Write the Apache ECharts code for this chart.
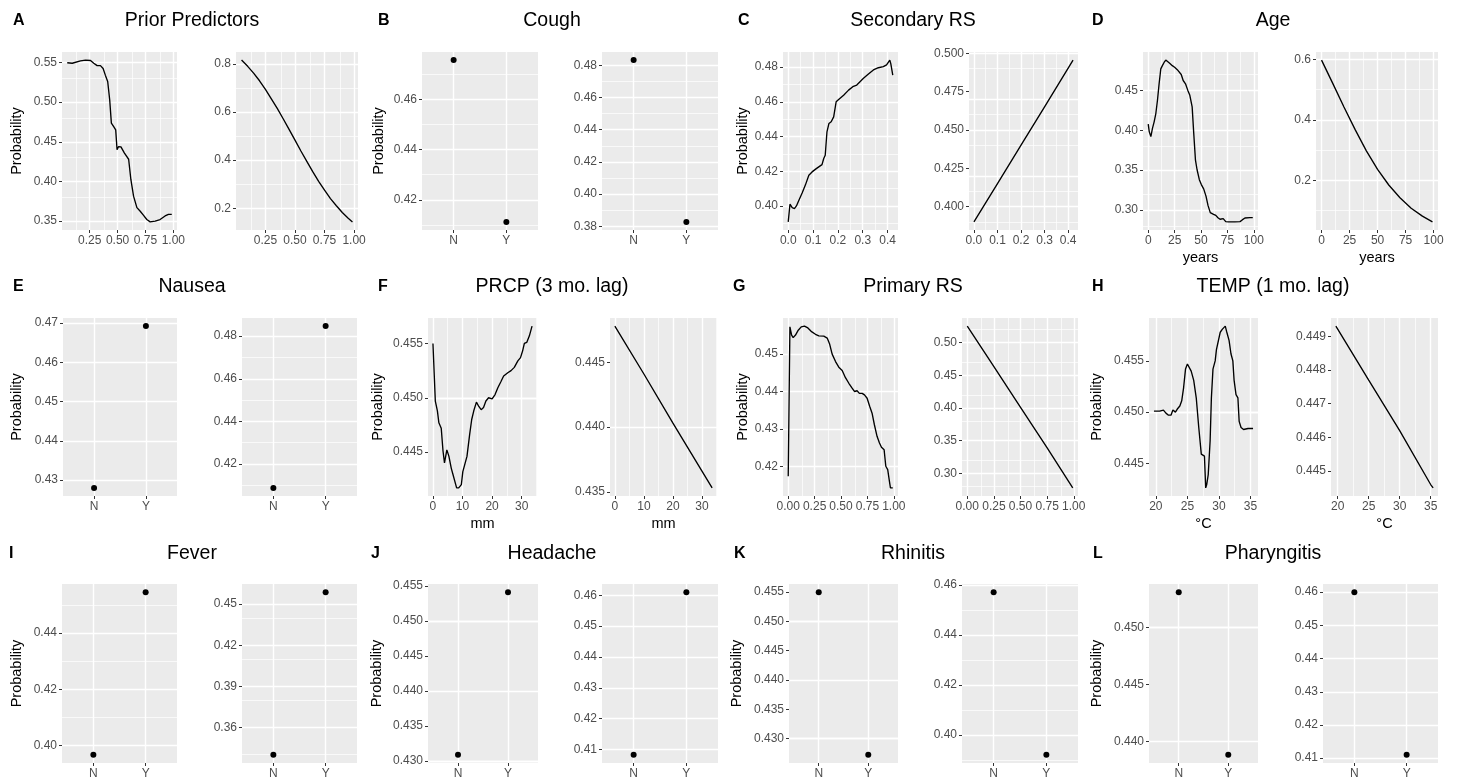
<!DOCTYPE html>
<html>
<head>
<meta charset="utf-8">
<script src="https://cdn.jsdelivr.net/npm/echarts@6/dist/echarts.min.js"></script>
<style>html,body{margin:0;padding:0;background:#fff}#main{width:1461px;height:782px}</style>
</head>
<body>
<div id="main"></div>
<script>
// ================= DATA =================
const catLabels = ['N', 'Y'];

// A Prior Predictors
const priorX = [0.048,0.093,0.167,0.212,0.257,0.286,0.316,0.346,0.37,0.39,0.411,0.429,0.444,0.465,0.483,0.495,0.509,0.53,0.56,0.599,0.619,0.643,0.673,0.703,0.733,0.762,0.792,0.837,0.881,0.926,0.956,0.986];
const priorPdp = [0.5496,0.549,0.552,0.553,0.5525,0.549,0.546,0.546,0.5425,0.534,0.526,0.503,0.4735,0.469,0.465,0.44,0.444,0.4435,0.436,0.428,0.4025,0.3815,0.367,0.3625,0.3573,0.352,0.349,0.350,0.352,0.3565,0.3585,0.3585];
const priorLinX = [0.048,0.10,0.15,0.20,0.25,0.30,0.35,0.40,0.45,0.50,0.55,0.60,0.65,0.70,0.75,0.80,0.85,0.90,0.95,0.986];
const priorLin = [0.816,0.79,0.762,0.73,0.694,0.655,0.615,0.572,0.528,0.483,0.438,0.395,0.352,0.312,0.275,0.24,0.21,0.182,0.158,0.143];

// B Cough
const coughLeft = [0.4757, 0.4112];
const coughRight = [0.4833, 0.3827];

// C Secondary RS
const secX = [0,0.007,0.016,0.025,0.033,0.043,0.056,0.069,0.083,0.096,0.113,0.123,0.129,0.136,0.143,0.149,0.156,0.164,0.173,0.183,0.193,0.203,0.223,0.243,0.26,0.276,0.289,0.303,0.323,0.343,0.363,0.383,0.396,0.409,0.413,0.421];
const secPdp = [0.3908,0.401,0.399,0.3985,0.40,0.4033,0.4075,0.412,0.4177,0.4196,0.4215,0.4225,0.4215,0.4238,0.4273,0.4292,0.4427,0.4475,0.4485,0.4513,0.46,0.4613,0.4638,0.4667,0.4687,0.4696,0.4715,0.4735,0.476,0.4783,0.4796,0.4802,0.4812,0.484,0.482,0.4754];
const secLinX = [0,0.1,0.2,0.3,0.421];
const secLin = [0.390,0.415,0.440,0.465,0.4955];

// D Age
const ageX = [0,1,2.5,4,5.6,7.2,8.75,10.3,11.9,13.4,15,16.6,18.1,20.3,22.8,25,27.5,29,31.25,33.1,35.3,37.5,39.4,41.6,43.1,44.7,46.25,48.4,50.3,52.5,54.7,56.6,58.75,61.9,64,66,68,71,73.4,75.9,82,86.9,89,91.6,96.25,99];
const agePdp = [0.4077,0.398,0.392,0.4023,0.4106,0.421,0.4376,0.4583,0.477,0.481,0.485,0.488,0.488,0.484,0.481,0.479,0.476,0.4749,0.4699,0.4624,0.4583,0.45,0.4438,0.4293,0.3961,0.363,0.3505,0.3381,0.3319,0.3265,0.3174,0.3058,0.2967,0.2946,0.2933,0.2904,0.2884,0.2892,0.2855,0.2851,0.2851,0.2855,0.2876,0.29,0.2904,0.2904];
const ageLinX = [0,10,20,30,40,50,60,70,80,90,99];
const ageLin = [0.598,0.521,0.443,0.368,0.298,0.237,0.185,0.143,0.108,0.082,0.063];

// E Nausea
const nauseaLeft = [0.428, 0.4692];
const nauseaRight = [0.4088, 0.4847];

// F PRCP (3 mo. lag)
const prcpX = [0,0.8,1.5,2,2.8,3.4,3.9,4.7,5.4,6.2,6.7,7.3,8,8.7,9.6,10.1,10.7,11.5,12.4,13.1,13.8,14.7,15.5,16.3,17.1,17.9,18.8,20,21,21.9,23,23.9,25.3,26.4,27.5,28.7,29.6,30.3,30.9,31.7,32.6,33.5];
const prcpPdp = [0.455,0.4497,0.4488,0.4477,0.4472,0.4451,0.444,0.4452,0.4446,0.4435,0.443,0.4429,0.4417,0.4417,0.442,0.4432,0.4438,0.4446,0.4466,0.448,0.4488,0.4496,0.4492,0.4489,0.4491,0.4497,0.45,0.4499,0.4503,0.4509,0.4515,0.452,0.4523,0.4525,0.4528,0.4534,0.4537,0.4543,0.455,0.4551,0.4557,0.4566];
const prcpLinX = [0,10,20,30,33.5];
const prcpLin = [0.4478,0.4441,0.4403,0.4366,0.4353];

// G Primary RS
const primX = [0,0.016,0.032,0.047,0.069,0.095,0.123,0.154,0.186,0.217,0.258,0.29,0.337,0.369,0.391,0.416,0.448,0.479,0.511,0.542,0.574,0.605,0.627,0.652,0.674,0.7,0.722,0.747,0.772,0.794,0.816,0.841,0.864,0.883,0.908,0.924,0.942,0.958,0.968,0.99];
const primPdp = [0.4173,0.4573,0.4551,0.4544,0.4551,0.4564,0.4573,0.4575,0.457,0.4561,0.4553,0.4549,0.4548,0.4543,0.4528,0.45,0.448,0.4465,0.4456,0.4437,0.4422,0.4409,0.44,0.4402,0.4395,0.4395,0.4391,0.4382,0.436,0.4342,0.4311,0.428,0.4262,0.4251,0.4244,0.42,0.4191,0.416,0.4142,0.4142];
const primLinX = [0,0.25,0.5,0.75,0.99];
const primLin = [0.525,0.463,0.401,0.339,0.278];

// H TEMP (1 mo. lag)
const tempX = [19.7,20.6,21.2,21.6,22,22.4,22.7,23.1,23.4,23.8,24.1,24.4,24.7,25,25.3,25.6,26,26.4,26.8,27.2,27.5,27.7,27.9,28.05,28.3,28.6,28.8,29.05,29.4,29.6,29.9,30.2,30.55,31,31.2,31.6,31.9,32.2,32.4,32.7,33,33.2,33.5,33.9,34.6,35.4];
const tempPdp = [0.4501,0.4501,0.4502,0.4499,0.4497,0.4497,0.4502,0.45,0.4503,0.4506,0.4511,0.4524,0.4542,0.4547,0.4547,0.454,0.4531,0.4514,0.4485,0.4459,0.4459,0.4457,0.4426,0.4429,0.4439,0.4472,0.4514,0.4542,0.455,0.4561,0.456,0.4578,0.4581,0.4584,0.4579,0.457,0.4557,0.455,0.4531,0.4517,0.4514,0.4491,0.4485,0.4483,0.4484,0.4484];
const tempLinX = [19.7,25,30,35,35.4];
const tempLin = [0.4493,0.4477,0.4462,0.4446,0.4445];

// I-L categorical
const feverLeft = [0.3967, 0.4546];
const feverRight = [0.3398, 0.4588];
const headLeft = [0.4309, 0.4541];
const headRight = [0.4083, 0.461];
const rhinLeft = [0.455, 0.4272];
const rhinRight = [0.4571, 0.392];
const pharLeft = [0.4531, 0.4388];
const pharRight = [0.46, 0.411];

// tick labels
const priorXT = ['0.25','0.50','0.75','1.00'];
const priorYL = ['0.35','0.40','0.45','0.50','0.55'];
const priorYR = ['0.2','0.4','0.6','0.8'];
const coughYL = ['0.42','0.44','0.46'];
const coughYR = ['0.38','0.40','0.42','0.44','0.46','0.48'];
const secXT = ['0.0','0.1','0.2','0.3','0.4'];
const secYL = ['0.40','0.42','0.44','0.46','0.48'];
const secYR = ['0.400','0.425','0.450','0.475','0.500'];
const ageXT = ['0','25','50','75','100'];
const ageYL = ['0.30','0.35','0.40','0.45'];
const ageYR = ['0.2','0.4','0.6'];
const nauseaYL = ['0.43','0.44','0.45','0.46','0.47'];
const nauseaYR = ['0.42','0.44','0.46','0.48'];
const prcpXT = ['0','10','20','30'];
const prcpYL = ['0.445','0.450','0.455'];
const prcpYR = ['0.435','0.440','0.445'];
const primXT = ['0.00','0.25','0.50','0.75','1.00'];
const primYL = ['0.42','0.43','0.44','0.45'];
const primYR = ['0.30','0.35','0.40','0.45','0.50'];
const tempXT = ['20','25','30','35'];
const tempYL = ['0.445','0.450','0.455'];
const tempYR = ['0.445','0.446','0.447','0.448','0.449'];
const feverYL = ['0.40','0.42','0.44'];
const feverYR = ['0.36','0.39','0.42','0.45'];
const headYL = ['0.430','0.435','0.440','0.445','0.450','0.455'];
const headYR = ['0.41','0.42','0.43','0.44','0.45','0.46'];
const rhinYL = ['0.430','0.435','0.440','0.445','0.450','0.455'];
const rhinYR = ['0.40','0.42','0.44','0.46'];
const pharYL = ['0.440','0.445','0.450'];
const pharYR = ['0.41','0.42','0.43','0.44','0.45','0.46'];

const titles = ['Prior Predictors','Cough','Secondary RS','Age','Nausea','PRCP (3 mo. lag)','Primary RS','TEMP (1 mo. lag)','Fever','Headache','Rhinitis','Pharyngitis'];
const letters = ['A','B','C','D','E','F','G','H','I','J','K','L'];
const yTitle = 'Probability';

// ================= LAYOUT =================
const FONT = '"Liberation Sans", Arial, Helvetica, sans-serif';
const R1 = {top: 52, h: 178}, R2 = {top: 318, h: 178}, R3 = {top: 584, h: 179};
const panels = [
  {row:R1, l:62,   r:177,  x:priorX,   y:priorPdp, xt:priorXT, yt:priorYL, yGap:38},
  {row:R1, l:236,  r:358,  x:priorLinX,y:priorLin, xt:priorXT, yt:priorYR},
  {row:R1, l:422,  r:538,  cat:coughLeft,  yt:coughYL, yGap:36},
  {row:R1, l:602,  r:718,  cat:coughRight, yt:coughYR},
  {row:R1, l:783,  r:898,  x:secX,     y:secPdp,   xt:secXT,   yt:secYL, yGap:31},
  {row:R1, l:969,  r:1078, x:secLinX,  y:secLin,   xt:secXT,   yt:secYR},
  {row:R1, l:1143, r:1258, x:ageX,     y:agePdp,   xt:ageXT,   yt:ageYL, xName:'years'},
  {row:R1, l:1316, r:1438, x:ageLinX,  y:ageLin,   xt:ageXT,   yt:ageYR, xName:'years'},

  {row:R2, l:63,   r:177,  cat:nauseaLeft,  yt:nauseaYL, yGap:39},
  {row:R2, l:242,  r:357,  cat:nauseaRight, yt:nauseaYR},
  {row:R2, l:428,  r:537,  x:prcpX,    y:prcpPdp,  xt:prcpXT,  yt:prcpYL, yGap:43, xName:'mm'},
  {row:R2, l:610,  r:717,  x:prcpLinX, y:prcpLin,  xt:prcpXT,  yt:prcpYR, xName:'mm'},
  {row:R2, l:783,  r:898,  x:primX,    y:primPdp,  xt:primXT,  yt:primYL, yGap:33},
  {row:R2, l:962,  r:1078, x:primLinX, y:primLin,  xt:primXT,  yt:primYR},
  {row:R2, l:1149, r:1258, x:tempX,    y:tempPdp,  xt:tempXT,  yt:tempYL, yGap:45, xName:'°C'},
  {row:R2, l:1331, r:1438, x:tempLinX, y:tempLin,  xt:tempXT,  yt:tempYR, xName:'°C'},

  {row:R3, l:62,   r:177,  cat:feverLeft,  yt:feverYL, yGap:38},
  {row:R3, l:242,  r:357,  cat:feverRight, yt:feverYR},
  {row:R3, l:428,  r:538,  cat:headLeft,   yt:headYL, yGap:44},
  {row:R3, l:602,  r:718,  cat:headRight,  yt:headYR},
  {row:R3, l:789,  r:898,  cat:rhinLeft,   yt:rhinYL, yGap:45},
  {row:R3, l:962,  r:1078, cat:rhinRight,  yt:rhinYR},
  {row:R3, l:1149, r:1258, cat:pharLeft,   yt:pharYL, yGap:45},
  {row:R3, l:1323, r:1438, cat:pharRight,  yt:pharYR}
];
const titlePos = [[192,21],[552,21],[913,21],[1273,21],[192,287],[552,287],[913,287],[1273,287],[192,554],[552,554],[913,554],[1273,554]];
const letterPos = [[13,21],[378,21],[738,21],[1092,21],[13,287],[378,287],[733,287],[1092,287],[9,554],[371,554],[734,554],[1093,554]];

// ggplot-like default expansion (5% of range)
function expand(v) {
  const mn = Math.min(...v), mx = Math.max(...v), r = mx - mn;
  return [mn - 0.05 * r, mx + 0.05 * r];
}
function minors(maj, lim) {
  const s = maj[1] - maj[0], out = [];
  for (let i = -1; i < maj.length; i++) {
    const m = maj[0] + (i + 0.5) * s;
    if (m >= lim[0] && m <= lim[1]) out.push(m);
  }
  return out;
}
function labelOf(vals, labs, v) {
  for (let j = 0; j < vals.length; j++) if (Math.abs(vals[j] - v) < 1e-9) return labs[j];
  return '';
}

const grids = [], xAxes = [], yAxes = [], series = [];
const tickLabelStyle = {color: '#4D4D4D', fontSize: 12, fontFamily: FONT};
const nameStyle = {color: '#000', fontSize: 14.5, fontFamily: FONT};

panels.forEach((p, i) => {
  grids.push({left: p.l, top: p.row.top, width: p.r - p.l, height: p.row.h,
    show: true, backgroundColor: '#EBEBEB', borderWidth: 0, containLabel: false, outerBoundsMode: 'none'});
  let xlim, xMaj, xLab, xMin;
  if (p.cat) { xlim = [0.4, 2.6]; xMaj = [1, 2]; xLab = catLabels; xMin = []; }
  else { xlim = expand(p.x); xLab = p.xt; xMaj = xLab.map(Number); xMin = minors(xMaj, xlim); }
  const ylim = expand(p.cat ? p.cat : p.y);
  const yLab = p.yt, yMaj = yLab.map(Number), yMin = minors(yMaj, ylim);

  xAxes.push({gridIndex: i, type: 'value', min: xlim[0], max: xlim[1],
    axisLine: {show: false, onZero: false},
    splitLine: {show: false}, minorSplitLine: {show: false},
    axisTick: {show: true, inside: false, length: 3, lineStyle: {color: '#333', width: 1}, customValues: xMaj},
    axisLabel: {show: true, customValues: xMaj, formatter: v => labelOf(xMaj, xLab, v), margin: 5, ...tickLabelStyle},
    name: p.xName || '', nameLocation: 'middle', nameGap: 20, nameTextStyle: nameStyle});
  yAxes.push({gridIndex: i, type: 'value', min: ylim[0], max: ylim[1],
    axisLine: {show: false, onZero: false},
    splitLine: {show: false}, minorSplitLine: {show: false},
    axisTick: {show: true, inside: false, length: 3, lineStyle: {color: '#333', width: 1}, customValues: yMaj},
    axisLabel: {show: true, customValues: yMaj, formatter: v => labelOf(yMaj, yLab, v), margin: 5, ...tickLabelStyle},
    name: p.yGap ? yTitle : '', nameLocation: 'middle', nameGap: p.yGap || 30, nameTextStyle: nameStyle});

  const gl = [];
  yMin.forEach(v => gl.push({yAxis: v, lineStyle: {color: '#fff', width: 0.7, type: 'solid'}}));
  xMin.forEach(v => gl.push({xAxis: v, lineStyle: {color: '#fff', width: 0.7, type: 'solid'}}));
  yMaj.forEach(v => gl.push({yAxis: v, lineStyle: {color: '#fff', width: 1.4, type: 'solid'}}));
  xMaj.forEach(v => gl.push({xAxis: v, lineStyle: {color: '#fff', width: 1.4, type: 'solid'}}));
  series.push({type: 'line', xAxisIndex: i, yAxisIndex: i, data: [], silent: true, z: 1,
    markLine: {silent: true, z: 1, symbol: ['none', 'none'], animation: false,
      label: {show: false}, emphasis: {disabled: true}, data: gl}});

  if (p.cat) {
    series.push({type: 'scatter', xAxisIndex: i, yAxisIndex: i, z: 4, silent: true,
      data: p.cat.map((v, k) => [k + 1, v]), symbol: 'circle', symbolSize: 6,
      itemStyle: {color: '#000', opacity: 1}});
  } else {
    series.push({type: 'line', xAxisIndex: i, yAxisIndex: i, z: 4, silent: true,
      data: p.x.map((v, k) => [v, p.y[k]]), showSymbol: false, symbol: 'none',
      lineStyle: {color: '#000', width: 1.35}});
  }
});

const graphics = [];
titles.forEach((t, k) => graphics.push({type: 'text', x: titlePos[k][0], y: titlePos[k][1],
  style: {text: t, fill: '#000', font: '19.5px ' + FONT, align: 'center', verticalAlign: 'middle'}}));
letters.forEach((t, k) => graphics.push({type: 'text', x: letterPos[k][0], y: letterPos[k][1],
  style: {text: t, fill: '#000', font: 'bold 16px ' + FONT, align: 'left', verticalAlign: 'middle'}}));

const chart = echarts.init(document.getElementById('main'), null, {renderer: 'canvas'});
chart.setOption({
  animation: false,
  backgroundColor: '#fff',
  grid: grids, xAxis: xAxes, yAxis: yAxes, series: series, graphic: graphics
});
</script>
</body>
</html>
